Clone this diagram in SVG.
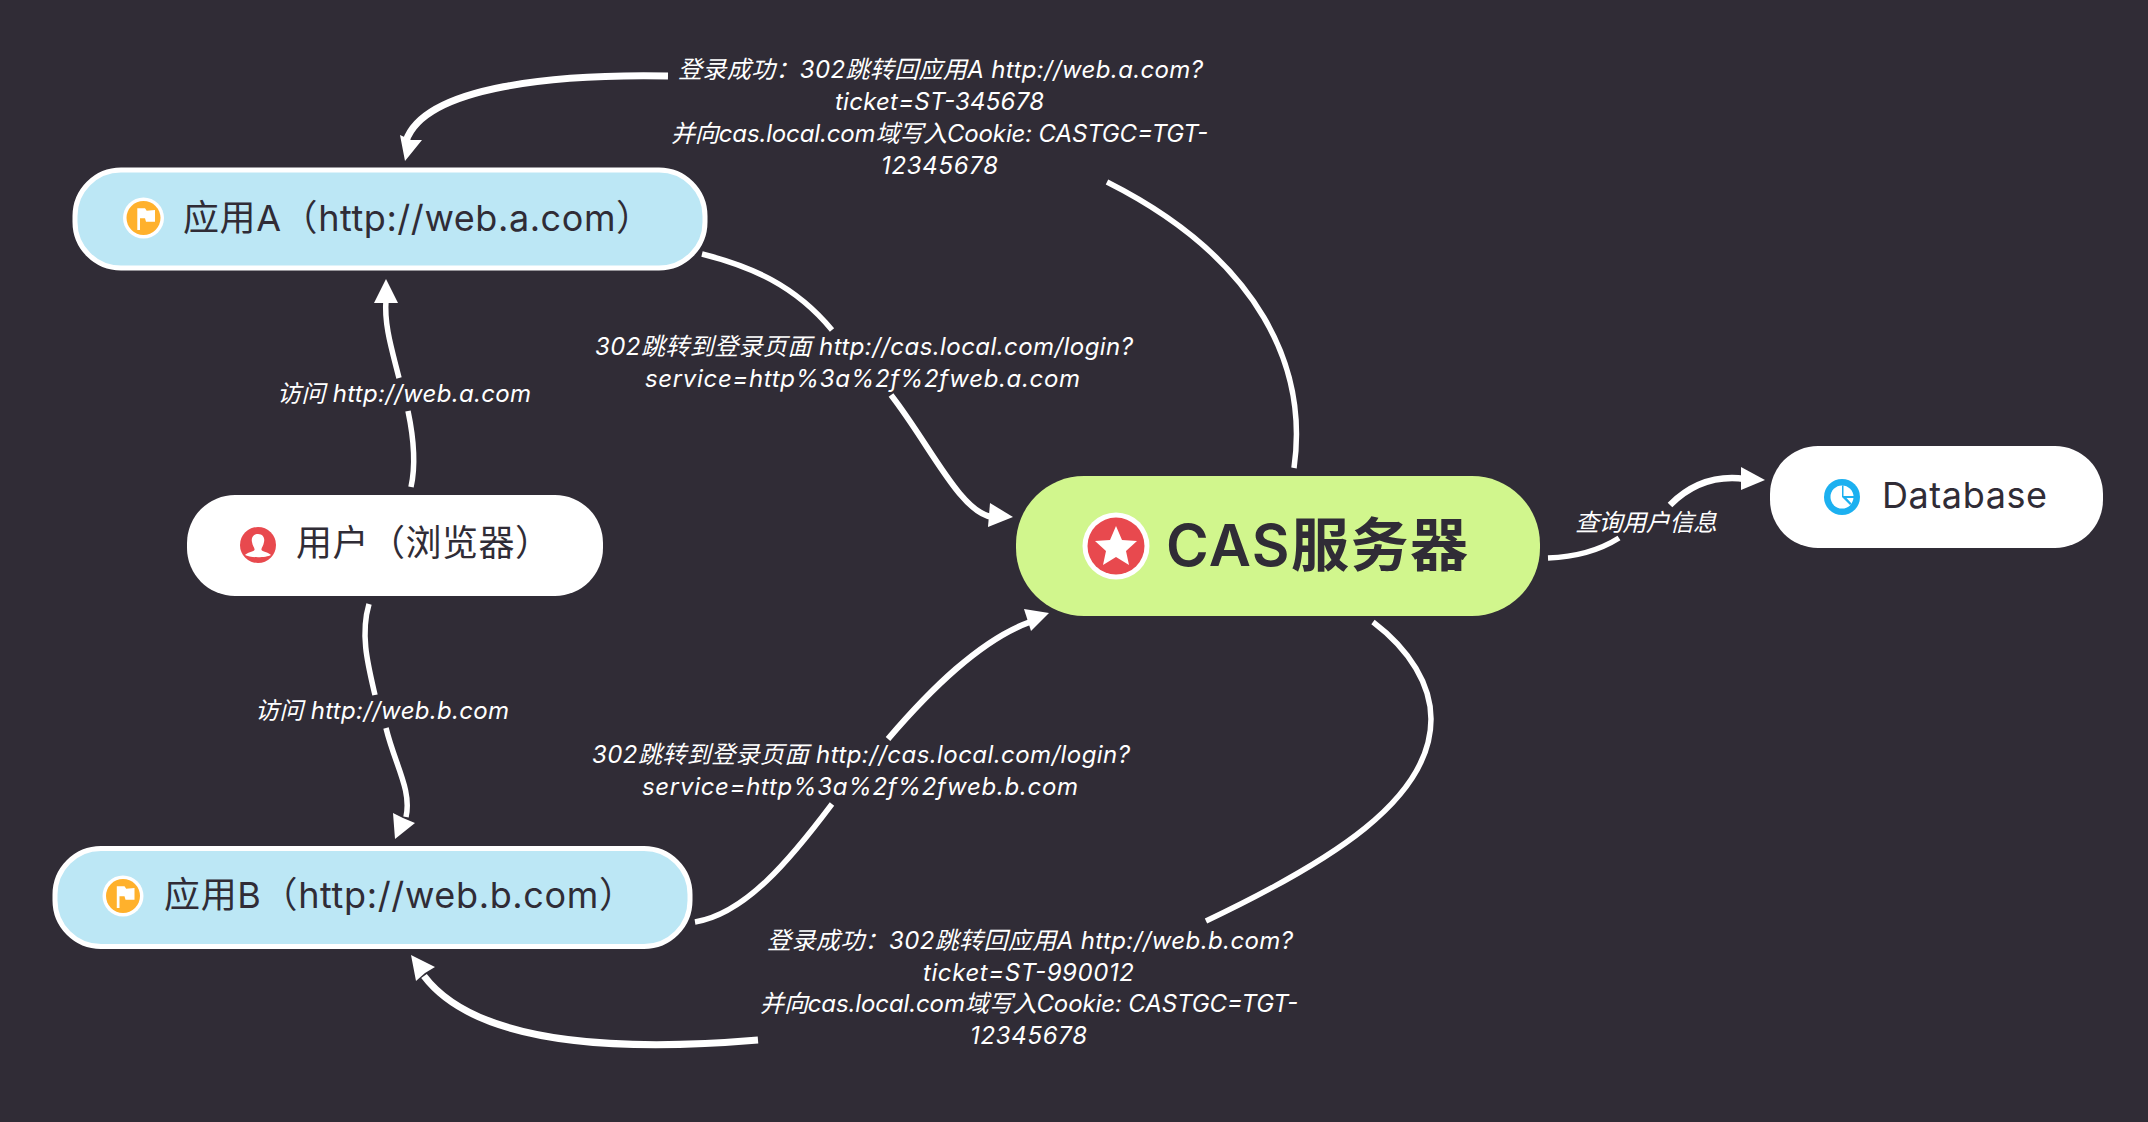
<svg xmlns="http://www.w3.org/2000/svg" width="2148" height="1122" viewBox="0 0 2148 1122">
<style>
text{font-family:"Inter","Noto Sans CJK SC",sans-serif;}
.lb{fill:#fff;font-size:24px;font-style:italic;}
.c{fill:none;stroke:#fff;stroke-width:5.5;}
.ah{fill:#fff;}
.nt{fill:#302c36;font-size:36px;}
.app{fill:#bce7f5;stroke:#fff;stroke-width:5;}
.plain{fill:#fff;}
</style>
<rect width="2148" height="1122" fill="#302c36"/>
<g id="connectors">
<path class="c" d="M1294 468C1308 370 1262 260 1107 182"/>
<path class="c" style="stroke-width:7" d="M668 76C560 74 425 85 406 141"/>
<polygon class="ah" points="405,161 400,135 411,140 422,140"/>
<path class="c" d="M702 254C750 266 795 285 832 330"/>
<path class="c" style="stroke-width:6" d="M891 395C930 445 960 512 992 517"/>
<polygon class="ah" points="1013,517 990,503 988,527"/>
<path class="c" d="M411 487C417 460 412 430 408 411"/>
<path class="c" d="M399 378C392 350 384 325 386 300"/>
<polygon class="ah" points="386,279 374,303 398,303"/>
<path class="c" d="M369 604C360 635 368 665 375 695"/>
<path class="c" d="M386 728C395 765 412 790 406 817"/>
<polygon class="ah" points="395,839 393,813 403,818 415,823"/>
<path class="c" d="M695 922C745 914 790 860 832 804"/>
<path class="c" style="stroke-width:6" d="M888 739C930 690 980 640 1030 622"/>
<polygon class="ah" points="1049,613 1024,609 1031,631"/>
<path class="c" d="M1373 622C1410 650 1431 685 1431 719C1431 800 1330 862 1206 921"/>
<path class="c" style="stroke-width:7" d="M758 1040C640 1050 480 1050 424 976"/>
<polygon class="ah" points="411,955 416,981 425,973 435,967"/>
<path class="c" d="M1548 558C1575 557 1600 550 1619 538"/>
<path class="c" style="stroke-width:6.5" d="M1670 505C1690 485 1715 475 1745 479"/>
<polygon class="ah" points="1765,480 1741,467 1741,490"/>
</g>
<g id="edge-labels">
<text class="lb" x="678" y="78" textLength="525">登录成功：302跳转回应用A http://web.a.com?</text>
<text class="lb" x="835" y="110" textLength="209">ticket=ST-345678</text>
<text class="lb" x="671" y="142" textLength="537">并向cas.local.com域写入Cookie: CASTGC=TGT-</text>
<text class="lb" x="881" y="174" textLength="117">12345678</text>
<text class="lb" x="595" y="355" textLength="538">302跳转到登录页面 http://cas.local.com/login?</text>
<text class="lb" x="645" y="387" textLength="435">service=http%3a%2f%2fweb.a.com</text>
<text class="lb" x="277" y="402" textLength="254">访问 http://web.a.com</text>
<text class="lb" x="255" y="719" textLength="254">访问 http://web.b.com</text>
<text class="lb" x="592" y="763" textLength="538">302跳转到登录页面 http://cas.local.com/login?</text>
<text class="lb" x="642" y="795" textLength="436">service=http%3a%2f%2fweb.b.com</text>
<text class="lb" x="767" y="949" textLength="526">登录成功：302跳转回应用A http://web.b.com?</text>
<text class="lb" x="923" y="981" textLength="211">ticket=ST-990012</text>
<text class="lb" x="760" y="1012" textLength="538">并向cas.local.com域写入Cookie: CASTGC=TGT-</text>
<text class="lb" x="970" y="1044" textLength="117">12345678</text>
<text class="lb" x="1575" y="531" textLength="142">查询用户信息</text>
</g>
<g id="node-app-a">
<rect class="app" x="75" y="170" width="630" height="98" rx="46"/>
<circle cx="143.500" cy="218" r="20.500" fill="#fff"/><circle cx="143.500" cy="218" r="17" fill="#ffb12c"/>
<path fill="#fff" d="M137.300 208.300H145L146.700 210.700L155 210V221.700H146L145 218.300H140V230H137.300Z"/>
<text class="nt" x="183" y="231" textLength="469">应用A（http://web.a.com）</text>
</g>
<g id="node-user">
<rect class="plain" x="187" y="495" width="416" height="101" rx="48"/>
<circle cx="258" cy="545" r="18" fill="#e8494e"/>
<path fill="#fff" d="M258 534C263 534 265 538 264 542C263.500 546 261 548 261.500 550C263 552 269 552.500 271 555C266 558 250 558 245 555C247 552.500 253 552 254.500 550C255 548 252.500 546 252 542C251 538 253 534 258 534Z"/>
<text class="nt" x="296" y="556" textLength="255">用户（浏览器）</text>
</g>
<g id="node-app-b">
<rect class="app" x="55" y="848.500" width="635" height="98" rx="46"/>
<circle cx="123" cy="896" r="20.500" fill="#fff"/><circle cx="123" cy="896" r="17" fill="#ffb12c"/>
<path fill="#fff" d="M116.800 886.300H124.500L126.200 888.700L134.500 888V899.700H125.500L124.500 896.300H119.500V908H116.800Z"/>
<text class="nt" x="164" y="908" textLength="471">应用B（http://web.b.com）</text>
</g>
<g id="node-cas">
<rect x="1016" y="476" width="524" height="140" rx="68" fill="#d1f68d"/>
<circle cx="1116" cy="546" r="33.500" fill="#fff"/><circle cx="1116" cy="546" r="28.500" fill="#e8494e"/>
<polygon fill="#fff" points="1116,526 1122,540 1137,541 1126,551 1129,565 1116,557 1103,565 1106,551 1095,541 1110,540"/>
<text x="1166" y="566" font-size="58" font-weight="600" fill="#302c36" textLength="302">CAS服务器</text>
</g>
<g id="node-database">
<rect class="plain" x="1770" y="446" width="333" height="102" rx="48"/>
<circle cx="1842" cy="497" r="18" fill="#1cb0f0"/>
<circle cx="1842" cy="497" r="11.500" fill="#fff"/>
<path fill="#1cb0f0" d="M1842 485.500H1843.500V496H1854V498H1846.500L1851.500 503.500L1850 505L1842 497Z"/>
<text class="nt" x="1882" y="508" textLength="165">Database</text>
</g>
</svg>
